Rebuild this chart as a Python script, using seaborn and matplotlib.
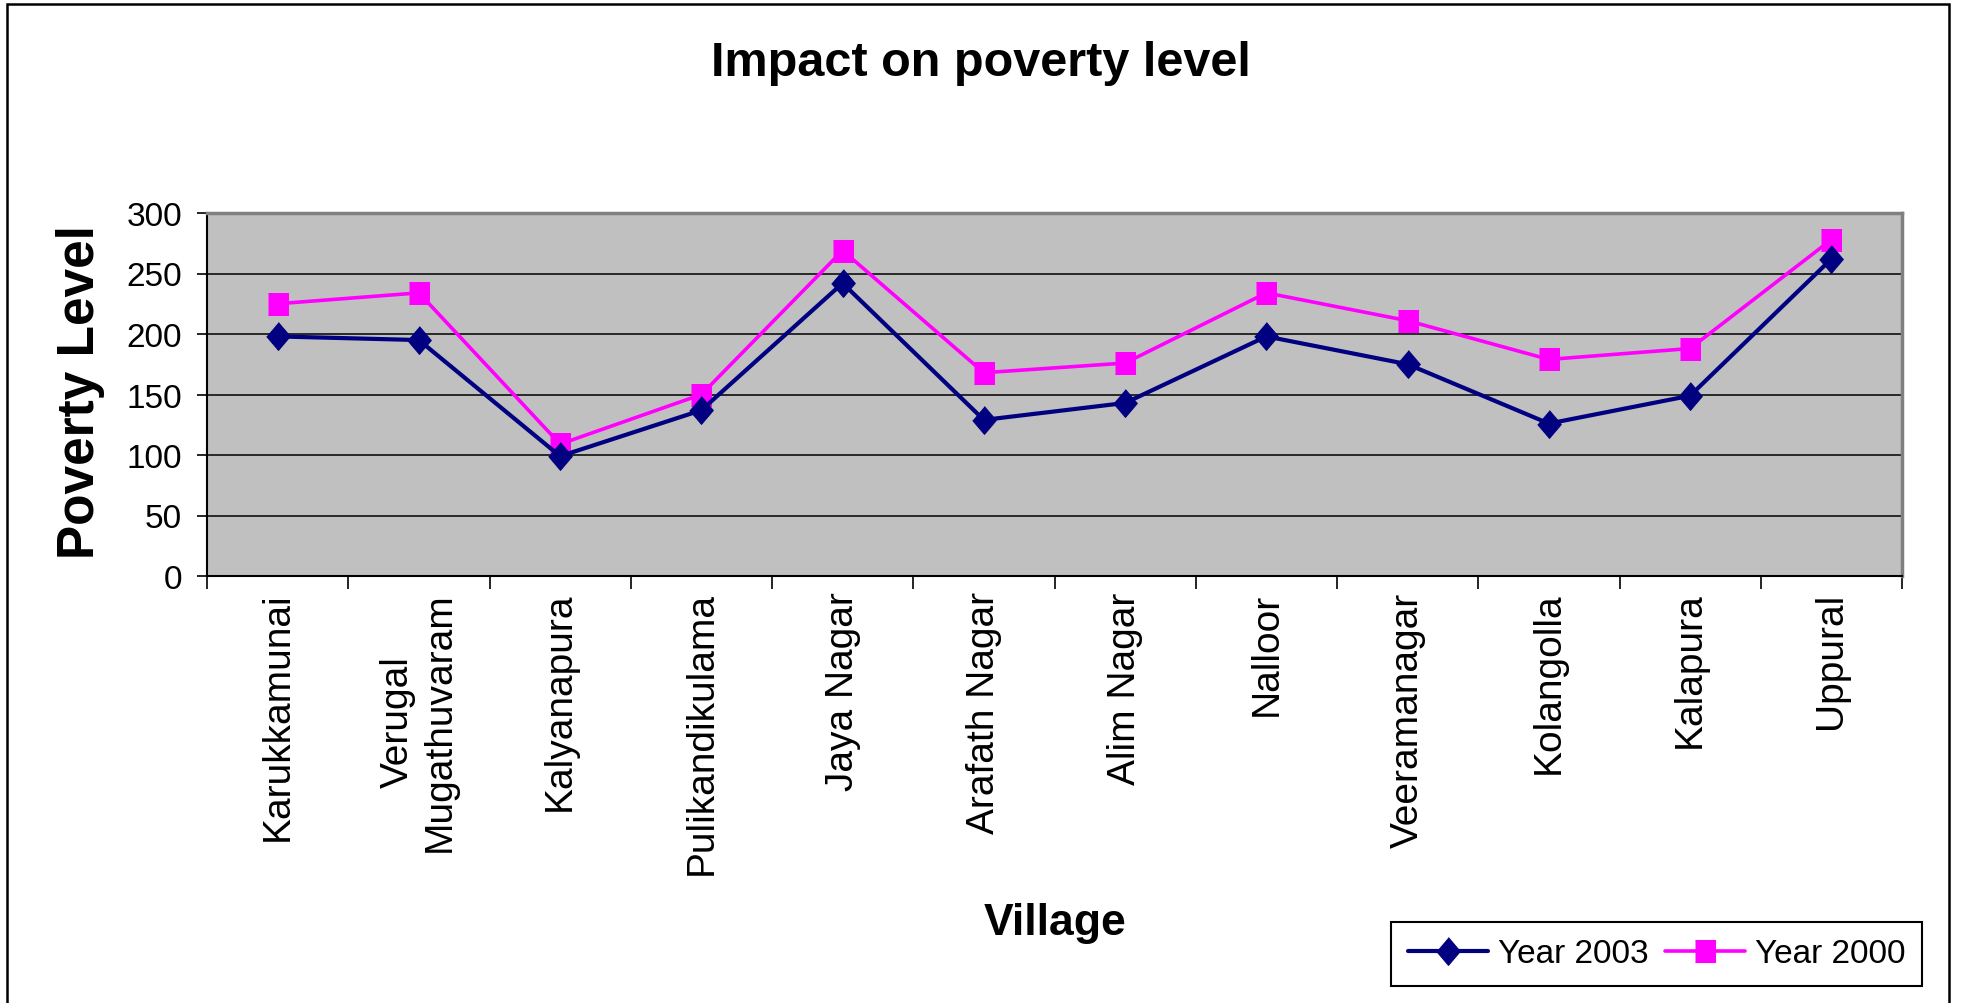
import numpy as np
import pandas as pd
import matplotlib
matplotlib.use("Agg")
import matplotlib.pyplot as plt
from matplotlib.patches import Rectangle
import seaborn as sns

villages = ["Karukkamunai", "Verugal\nMugathuvaram", "Kalyanapura", "Pulikandikulama",
            "Jaya Nagar", "Arafath Nagar", "Alim Nagar", "Nalloor", "Veeramanagar",
            "Kolangolla", "Kalapura", "Uppural"]
year_2003 = [198, 195, 99, 137, 242, 129, 143, 198, 175, 126, 149, 262]
year_2000 = [225, 234, 109, 150, 269, 168, 176, 234, 211, 179, 188, 278]
series_names = ["Year 2003", "Year 2000"]
y_ticks = [0, 50, 100, 150, 200, 250, 300]

sns.set_style("ticks")
plt.rcParams['font.family'] = ['Liberation Sans', 'DejaVu Sans']
plt.rcParams['text.color'] = 'black'
plt.rcParams['axes.labelcolor'] = 'black'
plt.rcParams['xtick.color'] = 'black'
plt.rcParams['ytick.color'] = 'black'

W, H = 1963, 1004
fig = plt.figure(figsize=(W / 100, H / 100), dpi=100)
left, right, top, bottom = 207, 1902, 214, 577
ax = fig.add_axes([left / W, 1 - bottom / H, (right - left) / W, (bottom - top) / H])
ax.set_facecolor("#C0C0C0")

pos = np.arange(len(villages))
diamond = [(0, 1), (0.85, 0), (0, -1), (-0.85, 0)]
square = [(-0.9, -1), (0.9, -1), (0.9, 1), (-0.9, 1)]

sns.lineplot(x=pos, y=year_2003, ax=ax, color="#000080", lw=3, marker=diamond,
             markersize=20, markeredgecolor="#000080", label=series_names[0],
             sort=False, zorder=4)
sns.lineplot(x=pos, y=year_2000, ax=ax, color="#FF00FF", lw=2.6, marker=square,
             markersize=16, markeredgecolor="#FF00FF", label=series_names[1],
             sort=False, zorder=3)

ax.set_xlim(-0.5, len(villages) - 0.5)
ax.set_ylim(0, 300)
ax.set_yticks(y_ticks)
ax.set_yticklabels([str(t) for t in y_ticks], fontsize=24)
ax.set_xticks(pos)
ax.set_xticklabels(villages, rotation=90, fontsize=28, va="top", ha="center",
                   multialignment="center")
ax.set_xticks(np.arange(-0.5, len(villages), 1), minor=True)
ax.tick_params(axis="x", which="major", length=0, pad=11)
ax.tick_params(axis="x", which="minor", length=9, width=1.2, color="black", direction="out")
ax.tick_params(axis="y", which="major", length=7, width=1.2, color="black", direction="out", pad=11)
ax.set_xlabel("")
ax.set_ylabel("")

ax.grid(False)
for t in y_ticks[1:-1]:
    ax.axhline(t, color="black", lw=1.1, zorder=1)

ax.spines["left"].set_color("black")
ax.spines["bottom"].set_color("black")
ax.spines["left"].set_linewidth(1.5)
ax.spines["bottom"].set_linewidth(1.5)
ax.spines["top"].set_color("#808080")
ax.spines["right"].set_color("#808080")
ax.spines["top"].set_linewidth(2.5)
ax.spines["right"].set_linewidth(2.5)
for s in ax.spines.values():
    s.set_visible(True)

fig.text(981 / W, 1 - 64 / H, "Impact on poverty level", fontsize=35, fontweight="bold",
         ha="center", va="center")
fig.text(81 / W, 1 - 392 / H, "Poverty Level", fontsize=37, fontweight="bold",
         rotation=90, ha="center", va="center")
fig.text(1055 / W, 1 - 924 / H, "Village", fontsize=32, fontweight="bold",
         ha="center", va="center")

ax.get_legend().remove()
handles, labels = ax.get_legend_handles_labels()
leg = fig.legend(handles, labels, loc="lower right", bbox_to_anchor=(1922 / W, 1 - 987 / H),
                 ncol=2, fontsize=24, handlelength=2.4, handletextpad=0.3,
                 columnspacing=0.5, borderpad=0.5, frameon=True, fancybox=False,
                 edgecolor="black", framealpha=1, borderaxespad=0)
leg.get_frame().set_linewidth(1.5)

fig.patches.append(Rectangle((7 / W, -0.01), (1949 - 7) / W, 1.01 - 5 / H,
                             transform=fig.transFigure, fill=False, edgecolor="black",
                             lw=1.8, zorder=0))

fig.savefig("out.png", dpi=100, facecolor="white")
